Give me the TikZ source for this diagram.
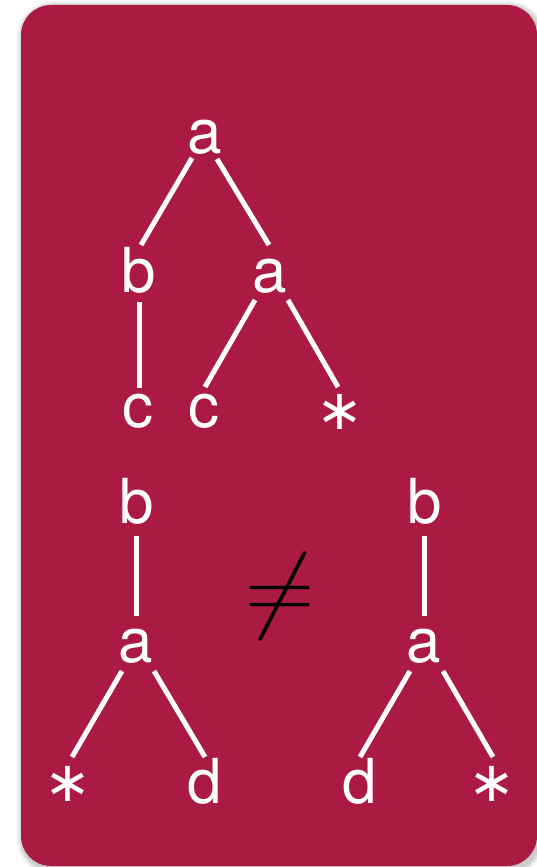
\documentclass[tikz,border=0pt]{standalone}
\usepackage{fix-cm}
\usepackage{fontspec}
\setmainfont{TeX Gyre Heros}
\newfontfamily\starfont{DejaVu Sans}
\definecolor{card}{RGB}{170,26,67}
\tikzset{
  lbl/.style={text=white, font=\fontsize{62}{70}\selectfont, inner sep=0pt, anchor=base},
  starlbl/.style={text=white, font=\starfont\fontsize{56}{62}\selectfont, inner sep=0pt, anchor=base},
  edge/.style={draw=white, line width=5pt},
  neqsym/.style={text=black, font=\fontsize{96}{100}\selectfont, inner sep=0pt, anchor=base},
}
\begin{document}
\begin{tikzpicture}[x=1pt,y=-1pt]
\useasboundingbox (0,0) rectangle (537,867);
\fill[white] (0,0) rectangle (537,867);
% soft shadow
\foreach \i in {1,...,6}{
  \fill[black, opacity=0.035, rounded corners={30pt+\i pt}] ({21-\i+2},{5-\i+2}) rectangle ({537+\i+2},{866+\i+3});
}
\fill[card, rounded corners=30pt] (21,5) rectangle (537,866);

% tree 1
\node[lbl] (r)  at (205,153) {a};
\node[lbl] (b1) at (139,292) {b};
\node[lbl] (a1) at (270,292) {a};
\node[lbl] (c1) at (138,427) {c};
\node[lbl] (c2) at (204,427) {c};
\node[starlbl] (s1) at (340,429) {∗};
\draw[edge] ([shift={(-13,5)}]r.base) -- ([shift={(2,-47)}]b1.base);
\draw[edge] ([shift={(12,6)}]r.base) -- ([shift={(-1,-47)}]a1.base);
\draw[edge] ([shift={(0,10)}]b1.base) -- ([shift={(1,-39)}]c1.base);
\draw[edge] ([shift={(-15,8)}]a1.base) -- ([shift={(1,-40)}]c2.base);
\draw[edge] ([shift={(18,8)}]a1.base) -- ([shift={(-2,-42)}]s1.base);

% tree 2
\node[lbl] (b2) at (137,523) {b};
\node[lbl] (a2) at (136,662) {a};
\node[starlbl] (s2) at (68,801) {∗};
\node[lbl] (d1) at (205,803) {d};
\draw[edge] ([shift={(-1,13)}]b2.base) -- ([shift={(0,-46)}]a2.base);
\draw[edge] ([shift={(-14,9)}]a2.base) -- ([shift={(4,-44)}]s2.base);
\draw[edge] ([shift={(18,9)}]a2.base) -- ([shift={(0,-46)}]d1.base);

% tree 3
\node[lbl] (b3) at (425,523) {b};
\node[lbl] (a3) at (424,662) {a};
\node[lbl] (d2) at (360,803) {d};
\node[starlbl] (s3) at (492,801) {∗};
\draw[edge] ([shift={(-1,13)}]b3.base) -- ([shift={(0,-46)}]a3.base);
\draw[edge] ([shift={(-14,9)}]a3.base) -- ([shift={(0,-46)}]d2.base);
\draw[edge] ([shift={(19,9)}]a3.base) -- ([shift={(1,-44)}]s3.base);

% not equal
\node[neqsym] (ne) at (280,620) {$\neq$};
\end{tikzpicture}
\end{document}
